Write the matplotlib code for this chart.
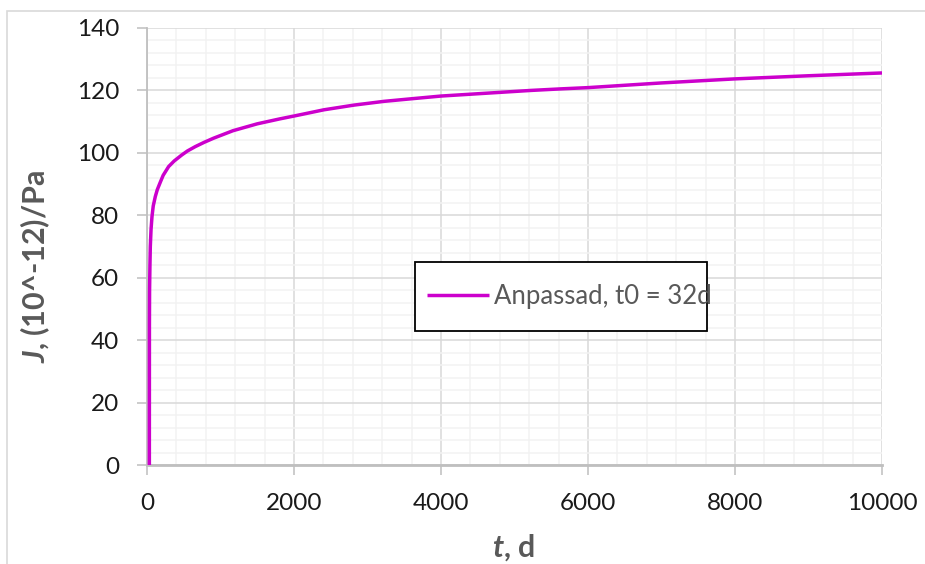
import matplotlib
matplotlib.use("Agg")
import matplotlib.pyplot as plt
from matplotlib.patches import Rectangle
from matplotlib.ticker import MultipleLocator

plt.rcParams['font.family'] = ['Lato', 'DejaVu Sans']
plt.rcParams['mathtext.fontset'] = 'custom'
plt.rcParams['mathtext.bfit'] = 'Lato:italic:bold'
plt.rcParams['mathtext.it'] = 'Lato:italic'
plt.rcParams['mathtext.rm'] = 'Lato'

# data (t in days, J in 10^-12 /Pa)
t_days = [32, 33, 35, 40, 45, 55, 68, 85, 113, 140, 181, 220, 294, 370, 472, 550,
          657, 780, 906, 1170, 1500, 1810, 2000, 2408, 2816, 3224, 3630, 4000,
          4408, 4816, 5224, 5633, 6000, 7000, 8000, 9000, 10000]
J_vals = [0, 45, 56, 64, 70, 75.5, 79.6, 83, 86, 88.2, 90.6, 92.8, 95.6, 97.4,
          99.3, 100.6, 102, 103.4, 104.7, 107.1, 109.3, 110.9, 111.8, 113.8, 115.3,
          116.5, 117.4, 118.2, 118.8, 119.4, 120.0, 120.5, 120.9, 122.4, 123.7,
          124.7, 125.6]
series_label = "Anpassad, t0 = 32d"
x_ticks = [0, 2000, 4000, 6000, 8000, 10000]
y_ticks = [0, 20, 40, 60, 80, 100, 120, 140]

W, H = 925, 564
fig = plt.figure(figsize=(W / 100, H / 100), dpi=100)
ax = fig.add_axes([147 / W, 1 - 465 / H, (882 - 147) / W, (465 - 28) / H])

ax.plot(t_days, J_vals, color='#CC00CC', lw=2.5, label=series_label,
        solid_capstyle='butt', solid_joinstyle='round', zorder=5)

ax.set_xlim(0, 10000)
ax.set_ylim(0, 140)
ax.set_xticks(x_ticks)
ax.set_yticks(y_ticks)
ax.xaxis.set_minor_locator(MultipleLocator(400))
ax.yaxis.set_minor_locator(MultipleLocator(4))
ax.grid(which='major', color='#D9D9D9', lw=1.1, zorder=1)
ax.grid(which='minor', color='#F2F2F2', lw=1.1, zorder=0)
ax.set_axisbelow(True)

for s in ['top', 'right']:
    ax.spines[s].set_visible(False)
for s in ['left', 'bottom']:
    ax.spines[s].set_color('#BFBFBF')
ax.spines['bottom'].set_linewidth(2.0)
ax.spines['left'].set_linewidth(1.3)

ax.tick_params(which='major', direction='out', length=7, width=1.1, color='#BFBFBF',
               labelsize=17.5, labelcolor='#1a1a1a')
ax.tick_params(axis='y', pad=13)
ax.tick_params(axis='x', pad=13)
ax.tick_params(which='minor', length=0)

leg = ax.legend(loc='center left', bbox_to_anchor=(427 / W, 1 - 296.5 / H),
                bbox_transform=fig.transFigure, frameon=False, fontsize=18.5,
                handlelength=2.4, handletextpad=0.2, borderpad=0, borderaxespad=0)
for txt in leg.get_texts():
    txt.set_color('#595959')
fig.add_artist(Rectangle((415 / W, 1 - 331 / H), (707 - 415) / W, (331 - 262) / H,
                         transform=fig.transFigure, facecolor='white',
                         edgecolor='black', lw=1.3, zorder=3))
leg.set_zorder(4)
fig.add_artist(leg)

fig.text(35 / W, 1 - 267 / H, r'$\mathbfit{J}$, (10^-12)/Pa', rotation=90,
         ha='center', va='center', fontsize=22, fontweight='bold', color='#595959')
fig.text(514 / W, 1 - 548 / H, r'$\mathbfit{t}$, d', ha='center', va='center',
         fontsize=22, fontweight='bold', color='#595959')

fig.add_artist(Rectangle((7 / W, -0.05), 1.2, 1 - 11 / H + 0.05, transform=fig.transFigure,
                         fill=False, edgecolor='#D9D9D9', lw=1.2))

fig.savefig('out.png', dpi=100)
